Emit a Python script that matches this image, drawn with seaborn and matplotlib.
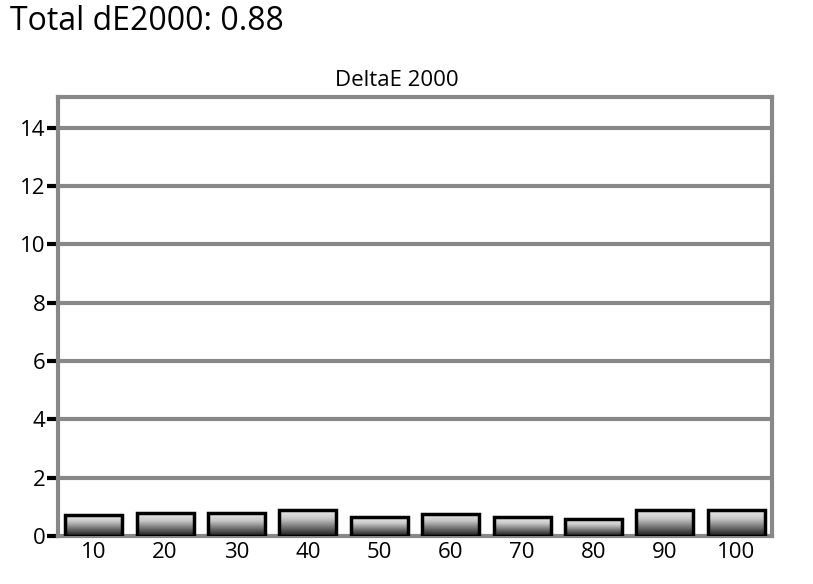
import numpy as np
import pandas as pd
import matplotlib
matplotlib.use("Agg")
import matplotlib.pyplot as plt
import seaborn as sns

# data
levels = ["10", "20", "30", "40", "50", "60", "70", "80", "90", "100"]
delta_e = [0.72, 0.78, 0.78, 0.88, 0.64, 0.77, 0.64, 0.57, 0.88, 0.88]
y_ticks = [0, 2, 4, 6, 8, 10, 12, 14]
total_de = 0.88

df = pd.DataFrame({"level": levels, "dE": delta_e})

sns.set_style("white")
plt.rcParams["font.family"] = ["Open Sans", "DejaVu Sans"]
plt.rcParams["text.color"] = "black"

fig = plt.figure(figsize=(8.13, 5.84), dpi=100)
ax = fig.add_axes([58 / 813, 1 - 536 / 584, 714 / 813, 439 / 584])

sns.barplot(data=df, x="level", y="dE", color="white", width=0.8,
            edgecolor="black", linewidth=2.5, ax=ax, zorder=3)

# gradient fill clipped to each bar
grad = np.linspace(1, 0, 256).reshape(-1, 1)
cmap = matplotlib.colors.LinearSegmentedColormap.from_list(
    "g", ["#1a1a1a", "#707070", "#c8c8c8", "#ececec"])
for p in ax.patches:
    x0, y0 = p.get_x(), p.get_y()
    w, h = p.get_width(), p.get_height()
    im = ax.imshow(grad, extent=[x0, x0 + w, y0, y0 + h], aspect="auto",
                   cmap=cmap, zorder=3.5, interpolation="bicubic")
    im.set_clip_path(p)
    p.set_facecolor("none")
    p.set_zorder(4)

ax.set_xlim(-0.5, len(levels) - 0.5)
ax.set_ylim(0, 15.05)
ax.set_yticks(y_ticks)
ax.set_yticklabels([str(v) for v in y_ticks])
for v in y_ticks[1:]:
    ax.axhline(v, color="#888888", lw=3, zorder=1)

# category ticks sit on the boundaries, labels centred
ax.set_xticks(np.arange(len(levels)))
ax.set_xticklabels(levels)
ax.tick_params(axis="x", length=0, labelsize=16, pad=4, labelcolor="black")
ax.set_xticks(np.arange(-0.5, len(levels)), minor=True)
ax.tick_params(axis="x", which="minor", length=8, width=3, color="black",
               direction="out")
ax.tick_params(axis="y", length=8, width=3, color="black", labelsize=16,
               pad=1, left=True, labelcolor="black")

for s in ax.spines.values():
    s.set_color("#888888")
    s.set_linewidth(3)
    s.set_visible(True)

ax.set_xlabel("")
ax.set_ylabel("")
fig.text(397 / 813, 1 - 80 / 584, "DeltaE 2000", fontsize=16,
         ha="center", va="center")

fig.text(10 / 813, 1 - 22 / 584, f"Total dE2000: {total_de:.2f}",
         fontsize=23, va="center", ha="left")

fig.savefig("out.png", dpi=100)
